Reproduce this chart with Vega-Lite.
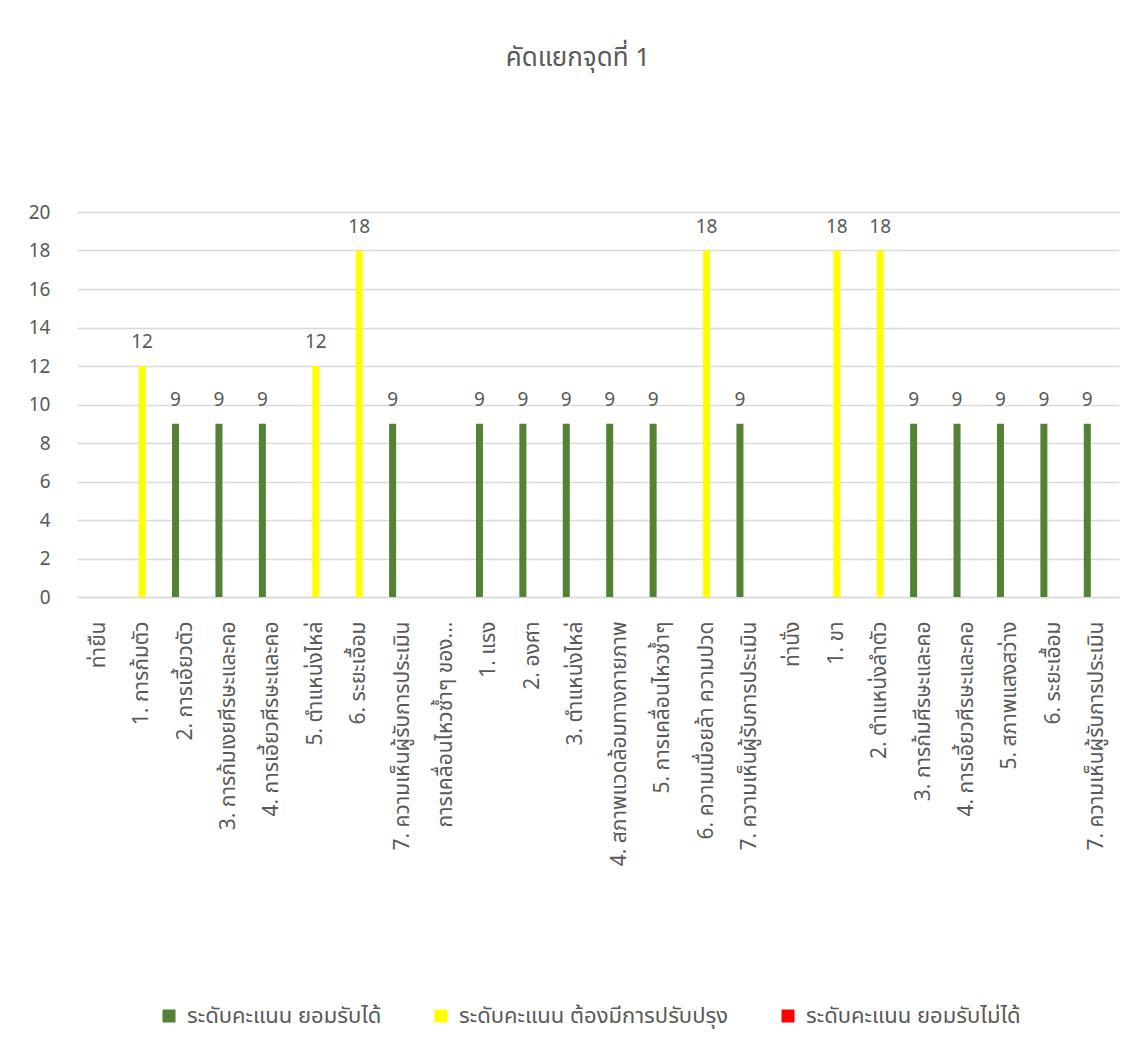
{
  "$schema": "https://vega.github.io/schema/vega-lite/v6.json",
  "width": 1042,
  "height": 385,
  "autosize": {"type": "none"},
  "padding": {"left": 77, "top": 212, "right": 19, "bottom": 448},
  "background": "white",
  "config": {
    "font": "Noto Sans Thai, Noto Sans, DejaVu Sans",
    "view": {"stroke": null}
  },
  "title": {
    "text": "คัดแยกจุดที่ 1",
    "fontSize": 26,
    "fontWeight": "normal",
    "color": "#595959",
    "offset": 132,
    "dx": -20
  },
  "data": {
    "values": [
      {"key": "01|ท่ายืน", "series": null, "value": null},
      {"key": "02|1. การก้มตัว", "series": "ระดับคะแนน ต้องมีการปรับปรุง", "value": 12},
      {"key": "03|2. การเอี้ยวตัว", "series": "ระดับคะแนน ยอมรับได้", "value": 9},
      {"key": "04|3. การก้มเงยศีรษะและคอ", "series": "ระดับคะแนน ยอมรับได้", "value": 9},
      {"key": "05|4. การเอี้ยวศีรษะและคอ", "series": "ระดับคะแนน ยอมรับได้", "value": 9},
      {"key": "06|5. ตำแหน่งไหล่", "series": "ระดับคะแนน ต้องมีการปรับปรุง", "value": 12},
      {"key": "07|6. ระยะเอื้อม", "series": "ระดับคะแนน ต้องมีการปรับปรุง", "value": 18},
      {"key": "08|7. ความเห็นผู้รับการประเมิน", "series": "ระดับคะแนน ยอมรับได้", "value": 9},
      {"key": "09|การเคลื่อนไหวซ้ำๆ ของ...", "series": null, "value": null},
      {"key": "10|1. แรง", "series": "ระดับคะแนน ยอมรับได้", "value": 9},
      {"key": "11|2. องศา", "series": "ระดับคะแนน ยอมรับได้", "value": 9},
      {"key": "12|3. ตำแหน่งไหล่", "series": "ระดับคะแนน ยอมรับได้", "value": 9},
      {"key": "13|4. สภาพแวดล้อมทางกายภาพ", "series": "ระดับคะแนน ยอมรับได้", "value": 9},
      {"key": "14|5. การเคลื่อนไหวซ้ำๆ", "series": "ระดับคะแนน ยอมรับได้", "value": 9},
      {"key": "15|6. ความเมื่อยล้า ความปวด", "series": "ระดับคะแนน ต้องมีการปรับปรุง", "value": 18},
      {"key": "16|7. ความเห็นผู้รับการประเมิน", "series": "ระดับคะแนน ยอมรับได้", "value": 9},
      {"key": "17|ท่านั่ง", "series": null, "value": null},
      {"key": "18|1. ขา", "series": "ระดับคะแนน ต้องมีการปรับปรุง", "value": 18},
      {"key": "19|2. ตำแหน่งลำตัว", "series": "ระดับคะแนน ต้องมีการปรับปรุง", "value": 18},
      {"key": "20|3. การก้มศีรษะและคอ", "series": "ระดับคะแนน ยอมรับได้", "value": 9},
      {"key": "21|4. การเอี้ยวศีรษะและคอ", "series": "ระดับคะแนน ยอมรับได้", "value": 9},
      {"key": "22|5. สภาพแสงสว่าง", "series": "ระดับคะแนน ยอมรับได้", "value": 9},
      {"key": "23|6. ระยะเอื้อม", "series": "ระดับคะแนน ยอมรับได้", "value": 9},
      {"key": "24|7. ความเห็นผู้รับการประเมิน", "series": "ระดับคะแนน ยอมรับได้", "value": 9}
    ]
  },
  "encoding": {
    "x": {
      "field": "key",
      "type": "nominal",
      "sort": "ascending",
      "scale": {
        "domain": [
          "01|ท่ายืน", "02|1. การก้มตัว", "03|2. การเอี้ยวตัว", "04|3. การก้มเงยศีรษะและคอ",
          "05|4. การเอี้ยวศีรษะและคอ", "06|5. ตำแหน่งไหล่", "07|6. ระยะเอื้อม",
          "08|7. ความเห็นผู้รับการประเมิน", "09|การเคลื่อนไหวซ้ำๆ ของ...", "10|1. แรง",
          "11|2. องศา", "12|3. ตำแหน่งไหล่", "13|4. สภาพแวดล้อมทางกายภาพ",
          "14|5. การเคลื่อนไหวซ้ำๆ", "15|6. ความเมื่อยล้า ความปวด",
          "16|7. ความเห็นผู้รับการประเมิน", "17|ท่านั่ง", "18|1. ขา", "19|2. ตำแหน่งลำตัว",
          "20|3. การก้มศีรษะและคอ", "21|4. การเอี้ยวศีรษะและคอ", "22|5. สภาพแสงสว่าง",
          "23|6. ระยะเอื้อม", "24|7. ความเห็นผู้รับการประเมิน"
        ],
        "paddingInner": 0.378,
        "paddingOuter": 0.189
      },
      "axis": {
        "title": null,
        "labelAngle": -90,
        "labelExpr": "split(datum.label, '|')[1]",
        "labelFontSize": 21,
        "labelColor": "#595959",
        "labelLimit": 400,
        "labelPadding": 24,
        "ticks": false,
        "domainColor": "#D9D9D9",
        "domainWidth": 1.3
      }
    },
    "y": {
      "field": "value",
      "type": "quantitative",
      "scale": {"domain": [0, 20]},
      "axis": {
        "title": null,
        "values": [0, 2, 4, 6, 8, 10, 12, 14, 16, 18, 20],
        "grid": true,
        "gridColor": "#D9D9D9",
        "gridWidth": 1.3,
        "domain": false,
        "ticks": false,
        "labelFontSize": 19,
        "labelColor": "#595959",
        "labelPadding": 27
      }
    },
    "xOffset": {
      "field": "series",
      "type": "nominal",
      "scale": {
        "domain": ["ระดับคะแนน ยอมรับได้", "ระดับคะแนน ต้องมีการปรับปรุง", "ระดับคะแนน ยอมรับไม่ได้"],
        "paddingInner": 0.3,
        "paddingOuter": 0
      }
    }
  },
  "layer": [
    {
      "mark": {"type": "bar"},
      "encoding": {
        "color": {
          "field": "series",
          "type": "nominal",
          "scale": {
            "domain": ["ระดับคะแนน ยอมรับได้", "ระดับคะแนน ต้องมีการปรับปรุง", "ระดับคะแนน ยอมรับไม่ได้"],
            "range": ["#548235", "#FFFF00", "#FF0000"]
          },
          "legend": {
            "orient": "none",
            "legendX": 81,
            "legendY": 793,
            "direction": "horizontal",
            "title": null,
            "symbolType": "square",
            "symbolSize": 169,
            "symbolStrokeWidth": 0,
            "labelFontSize": 22,
            "labelColor": "#595959",
            "labelOffset": 7,
            "columnPadding": 48,
            "labelLimit": 400
          }
        }
      }
    },
    {
      "mark": {
        "type": "text",
        "baseline": "bottom",
        "dy": -14,
        "fontSize": 19,
        "color": "#595959"
      },
      "encoding": {
        "text": {"field": "value", "type": "quantitative"}
      }
    }
  ]
}
